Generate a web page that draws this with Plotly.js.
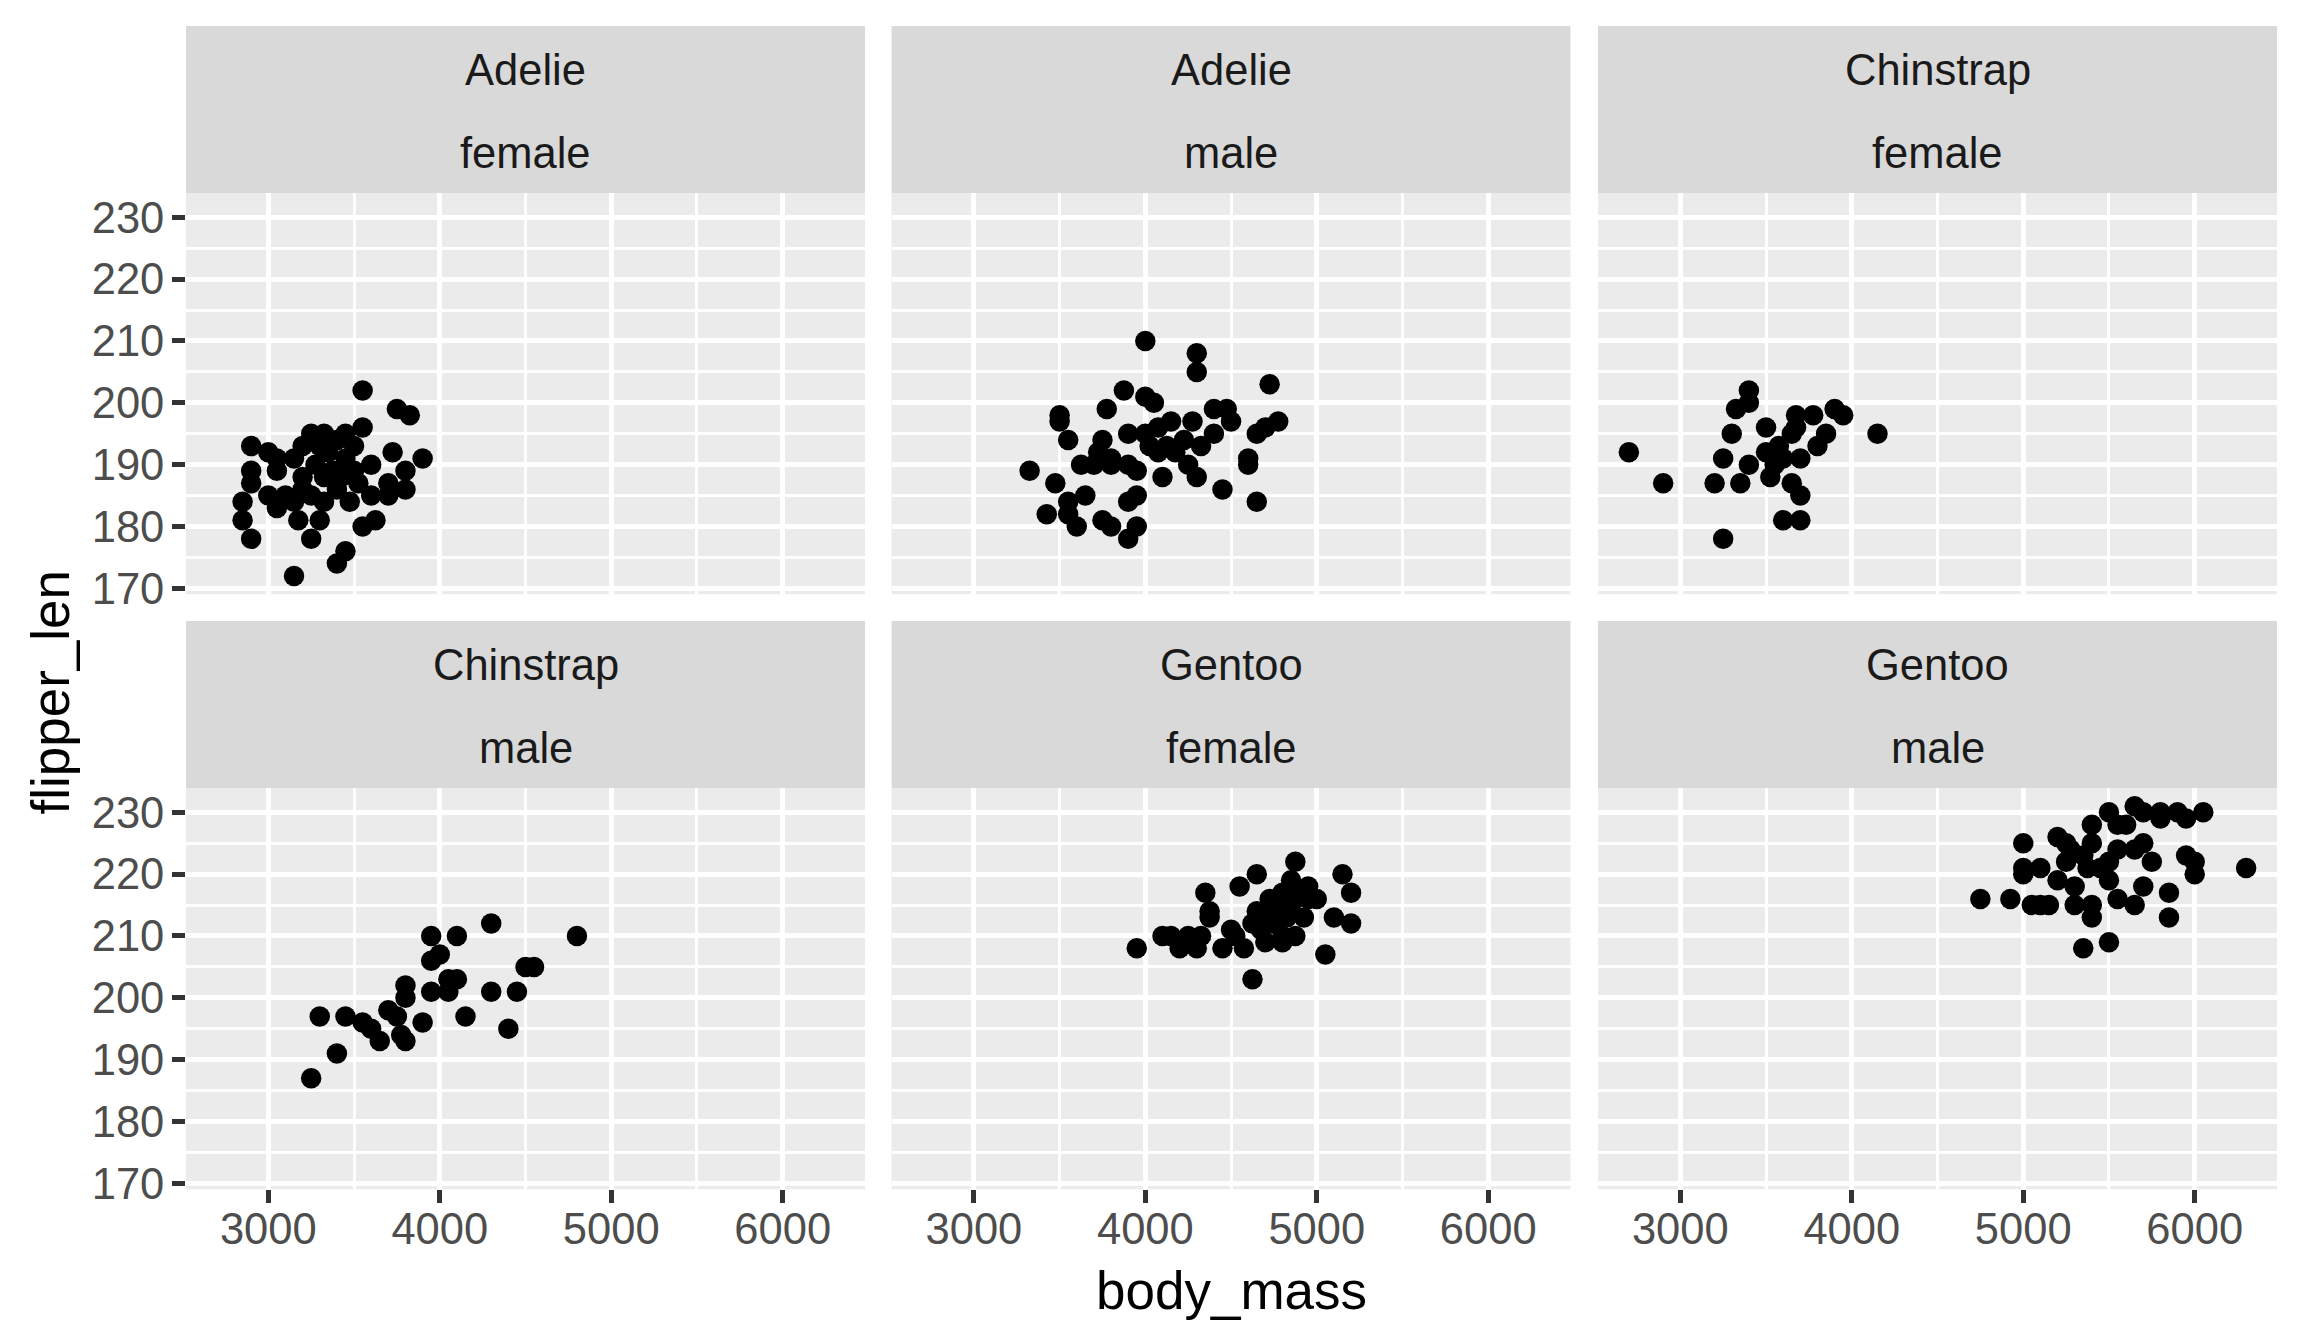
<!DOCTYPE html>
<html>
<head>
<meta charset="utf-8">
<script src="https://cdn.plot.ly/plotly-3.0.1.min.js"></script>
<style>
  html, body { margin: 0; padding: 0; background: #fff; }
  #penguinPlot { width: 2304px; height: 1344px; }
</style>
</head>
<body>
<div id="penguinPlot"></div>
<script>
// facet labels (species / sex)
var speciesLabels = ['Adelie', 'Adelie', 'Chinstrap', 'Chinstrap', 'Gentoo', 'Gentoo'];
var sexLabels = ['female', 'male', 'female', 'male', 'female', 'male'];

var xTickVals = [3000, 4000, 5000, 6000];
var yTickVals = [170, 180, 190, 200, 210, 220, 230];

// Adelie female
var adelieFemaleMass = [3550, 3750, 3825, 3550, 2900, 3900, 2900, 2900, 2850, 2850, 2900, 3150, 3400, 3450,
    3250, 3550, 3625, 3175, 3300, 3050, 3000, 3475, 3600, 3700, 3800, 3800, 3700, 3725, 3600, 3500, 3250,
    3325, 3450, 3200, 3000, 3050, 3050, 3150, 3275, 3375, 3425, 3325, 3200, 3100, 3400, 3500, 3525, 3325,
    3150, 3250, 3200, 3350, 3450, 3400, 3300];
var adelieFemaleFlipper = [202, 199, 198, 196, 193, 191, 189, 187, 184, 181, 178, 172, 174, 176,
    178, 180, 181, 181, 181, 183, 185, 184, 185, 185, 186, 189, 187, 192, 190, 193, 195,
    195, 195, 193, 192, 191, 189, 191, 190, 189, 188, 188, 186, 185, 186, 189, 187, 184,
    184, 185, 188, 192, 191, 194, 193];

// Adelie male
var adelieMaleMass = [4000, 4300, 4300, 4725, 3875, 4000, 4050, 3775, 3500, 3500, 4475, 4500, 4775, 4700,
    4650, 4400, 4400, 4275, 4150, 4075, 3900, 4000, 3550, 3750, 3725, 3800, 3700, 3625, 3800, 3900, 3950,
    4100, 4300, 4250, 4175, 4075, 4225, 4325, 4600, 4600, 3325, 3475, 3650, 3550, 3550, 3425, 3600, 3750,
    3800, 3900, 3950, 3950, 3900, 4450, 4650, 4125, 4025];
var adelieMaleFlipper = [210, 208, 205, 203, 202, 201, 200, 199, 198, 197, 199, 197, 197, 196,
    195, 199, 195, 197, 197, 196, 195, 195, 194, 194, 192, 191, 190, 190, 190, 190, 189,
    188, 188, 190, 192, 192, 194, 193, 191, 190, 189, 187, 185, 184, 182, 182, 180, 181,
    180, 184, 185, 180, 178, 186, 184, 193, 193];

// Chinstrap female
var chinstrapFemaleMass = [2700, 2900, 3200, 3350, 3250, 3300, 3325, 3400, 3400, 3500, 3400, 3525, 3500,
    3575, 3550, 3650, 3675, 3675, 3775, 3900, 3950, 3850, 3800, 3700, 3650, 3700, 3600, 3700, 3250,
    4150, 3600];
var chinstrapFemaleFlipper = [192, 187, 187, 187, 191, 195, 199, 202, 200, 196, 190, 188, 192,
    193, 190, 195, 196, 198, 198, 199, 198, 195, 193, 191, 187, 185, 181, 181, 178,
    195, 191];

// Chinstrap male
var chinstrapMaleMass = [3250, 3400, 3300, 3450, 3550, 3600, 3650, 3700, 3750, 3775, 3800, 3800, 3800,
    3900, 3950, 3950, 4000, 3950, 4100, 4050, 4100, 4050, 4150, 4300, 4300, 4450, 4500, 4550, 4400, 4800];
var chinstrapMaleFlipper = [187, 191, 197, 197, 196, 195, 193, 198, 197, 194, 193, 202, 200,
    196, 201, 206, 207, 210, 210, 203, 203, 201, 197, 212, 201, 201, 205, 205, 195, 210];

// Gentoo female
var gentooFemaleMass = [3950, 4625, 5050, 4150, 4200, 4300, 4325, 4450, 4500, 4575, 4700, 4800, 4875,
    4350, 4375, 4375, 4550, 4650, 4875, 4850, 4950, 5000, 5150, 5200, 5100, 5200, 4725, 4650, 4625,
    4775, 4850, 4925, 4950, 4750, 4700, 4825, 4675, 4800, 4525, 4250, 4100, 4900, 4800];
var gentooFemaleFlipper = [208, 203, 207, 210, 208, 208, 210, 208, 211, 208, 209, 209, 210,
    217, 214, 213, 218, 220, 222, 219, 218, 216, 220, 217, 213, 212, 216, 214, 212,
    214, 215, 213, 216, 212, 213, 213, 211, 210, 210, 210, 210, 217, 217];

// Gentoo male
var gentooMaleMass = [4750, 4925, 5050, 5100, 5150, 5000, 5000, 5000, 5100, 5200, 5250, 5200, 5250, 5300,
    5300, 5350, 5500, 5400, 5400, 5400, 5400, 5350, 5375, 5450, 5500, 5500, 5550, 5550, 5500, 5550, 5600,
    5650, 5650, 5700, 5700, 5650, 5700, 5750, 5800, 5800, 5850, 5850, 5900, 5950, 5950, 6000, 6000, 6050,
    6300, 5275];
var gentooMaleFlipper = [216, 216, 215, 215, 215, 225, 221, 220, 221, 226, 225, 219, 222, 218,
    215, 208, 209, 213, 215, 228, 225, 223, 221, 221, 219, 222, 224, 216, 230, 228, 228,
    231, 224, 225, 230, 215, 218, 222, 230, 229, 217, 213, 230, 223, 229, 222, 220, 230,
    221, 224];

var panelMass = [adelieFemaleMass, adelieMaleMass, chinstrapFemaleMass,
                 chinstrapMaleMass, gentooFemaleMass, gentooMaleMass];
var panelFlipper = [adelieFemaleFlipper, adelieMaleFlipper, chinstrapFemaleFlipper,
                    chinstrapMaleFlipper, gentooFemaleFlipper, gentooMaleFlipper];

var W = 2304, H = 1344;
// panel boxes in pixels
var colLeft = [186, 891.6, 1598], colRight = [865, 1570.5, 2277];
var rowTop = [192.9, 787.9], rowBottom = [594.2, 1189.2];
var stripH = 167;

var font = '"Liberation Sans", Arial, sans-serif';
var textSize = 43.5;

var traces = [];
var layout = {
    width: W,
    height: H,
    margin: {l: 0, r: 0, t: 0, b: 0},
    paper_bgcolor: '#ffffff',
    plot_bgcolor: '#EBEBEB',
    showlegend: false,
    font: {family: font, color: '#4D4D4D', size: textSize},
    shapes: [],
    annotations: []
};

for (var i = 0; i < 6; i++) {
    var row = Math.floor(i / 3), col = i % 3;
    var sfx = i === 0 ? '' : String(i + 1);

    traces.push({
        x: panelMass[i],
        y: panelFlipper[i],
        xaxis: 'x' + sfx,
        yaxis: 'y' + sfx,
        mode: 'markers',
        type: 'scatter',
        marker: {color: '#000000', size: 20.5, line: {width: 0}},
        hoverinfo: 'x+y'
    });

    layout['xaxis' + sfx] = {
        domain: [colLeft[col] / W, colRight[col] / W],
        anchor: 'y' + sfx,
        range: [2520, 6480],
        tickvals: xTickVals,
        ticktext: xTickVals.map(String),
        showticklabels: row === 1,
        ticks: row === 1 ? 'outside' : '',
        ticklen: 13,
        tickwidth: 5,
        tickcolor: '#333333',
        ticklabelstandoff: -11,
        tickfont: {family: font, size: textSize, color: '#4D4D4D'},
        showgrid: true,
        gridcolor: '#ffffff',
        gridwidth: 5,
        minor: {dtick: 500, tick0: 0, showgrid: true, gridcolor: '#ffffff', gridwidth: 2.5, ticks: ''},
        zeroline: false,
        showline: false,
        fixedrange: true
    };
    layout['yaxis' + sfx] = {
        domain: [1 - rowBottom[row] / H, 1 - rowTop[row] / H],
        anchor: 'x' + sfx,
        range: [169.05, 233.95],
        tickvals: yTickVals,
        ticktext: yTickVals.map(String),
        showticklabels: col === 0,
        ticks: col === 0 ? 'outside' : '',
        ticklen: 13,
        tickwidth: 5,
        tickcolor: '#333333',
        ticklabelstandoff: -1,
        tickfont: {family: font, size: textSize, color: '#4D4D4D'},
        showgrid: true,
        gridcolor: '#ffffff',
        gridwidth: 5,
        minor: {dtick: 5, tick0: 0, showgrid: true, gridcolor: '#ffffff', gridwidth: 2.5, ticks: ''},
        zeroline: false,
        showline: false,
        fixedrange: true
    };

    // grey facet strip on top of each panel
    var plotH = rowBottom[row] - rowTop[row];
    layout.shapes.push({
        type: 'rect',
        xref: 'x' + sfx + ' domain', yref: 'y' + sfx + ' domain',
        x0: 0, x1: 1, y0: 1, y1: 1 + stripH / plotH,
        fillcolor: '#D9D9D9',
        line: {width: 0},
        layer: 'below'
    });
    layout.annotations.push({
        xref: 'x' + sfx + ' domain', yref: 'y' + sfx + ' domain',
        x: 0.5, y: 1 + 123 / plotH,
        text: speciesLabels[i],
        showarrow: false,
        xanchor: 'center', yanchor: 'middle',
        font: {family: font, size: textSize, color: '#1A1A1A'}
    });
    layout.annotations.push({
        xref: 'x' + sfx + ' domain', yref: 'y' + sfx + ' domain',
        x: 0.5, y: 1 + 40 / plotH,
        text: sexLabels[i],
        showarrow: false,
        xanchor: 'center', yanchor: 'middle',
        font: {family: font, size: textSize, color: '#1A1A1A'}
    });
}

// shared axis titles
layout.annotations.push({
    xref: 'paper', yref: 'paper',
    x: 1231 / W, y: 1 - 1290 / H,
    text: 'body_mass',
    showarrow: false,
    xanchor: 'center', yanchor: 'middle',
    font: {family: font, size: 53, color: '#000000'}
});
layout.annotations.push({
    xref: 'paper', yref: 'paper',
    x: 50 / W, y: 1 - 692.5 / H,
    text: 'flipper_len',
    textangle: -90,
    showarrow: false,
    xanchor: 'center', yanchor: 'middle',
    font: {family: font, size: 53, color: '#000000'}
});

Plotly.newPlot('penguinPlot', traces, layout, {displayModeBar: false, responsive: false});
</script>
</body>
</html>
